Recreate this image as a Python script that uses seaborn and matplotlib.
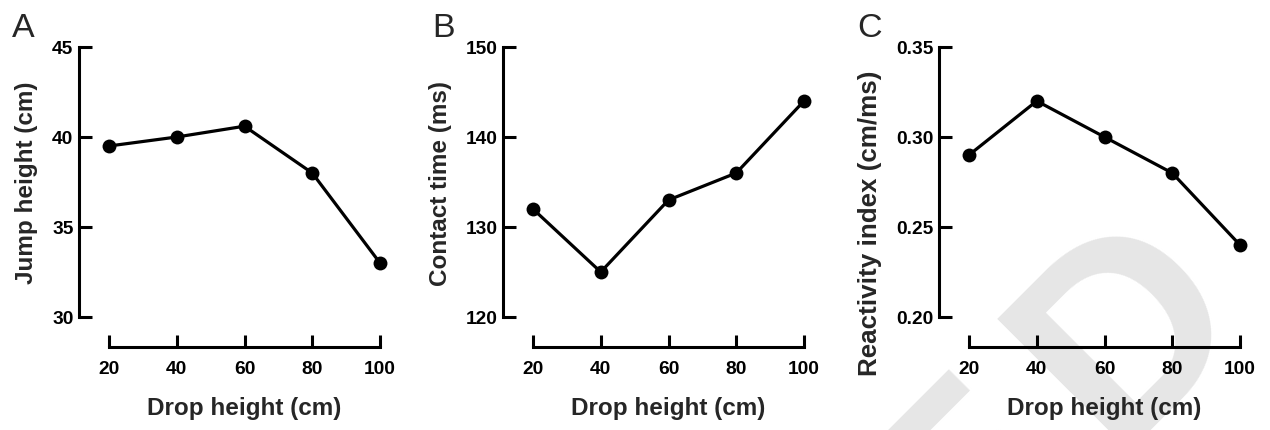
import matplotlib
matplotlib.use("Agg")
import matplotlib.pyplot as plt
import seaborn as sns
import pandas as pd

drop_height = [20, 40, 60, 80, 100]
jump_height = [39.5, 40.0, 40.6, 38.0, 33.0]
contact_time = [132, 125, 133, 136, 144]
reactivity = [0.29, 0.32, 0.30, 0.28, 0.24]

panels = [
    ("A", jump_height, "Jump height (cm)", [30, 35, 40, 45], ["30", "35", "40", "45"]),
    ("B", contact_time, "Contact time (ms)", [120, 130, 140, 150], ["120", "130", "140", "150"]),
    ("C", reactivity, "Reactivity index (cm/ms)", [0.20, 0.25, 0.30, 0.35], ["0.20", "0.25", "0.30", "0.35"]),
]

sns.set_style("ticks")
plt.rcParams['font.family'] = ['Liberation Sans', 'DejaVu Sans']

W, H = 1270, 431
fig = plt.figure(figsize=(W / 100, H / 100), dpi=100)

# faint diagonal watermark letters behind the plots
wm = dict(rotation=45, rotation_mode="anchor", fontsize=195, fontweight="bold",
          color="#e6e6e6", zorder=-5)
fig.text(973 / W, 1 - 312 / H, "D", ha="left", va="top", **wm)
fig.text(948 / W, 1 - 338 / H, "E", ha="right", va="top", **wm)

lefts = [109, 533, 969]
letter_x = [12, 432, 857]
ylab_size = [17.5, 17.5, 18.7]
ylab_y = [0.5, 0.5, 0.352]
for i, (letter, vals, ylab, yt, ytl) in enumerate(panels):
    ax = fig.add_axes([lefts[i] / W, 1 - 318 / H, 271 / W, 270 / H])
    ax.set_facecolor("none")
    df = pd.DataFrame({"drop": drop_height, "val": vals})
    sns.lineplot(data=df, x="drop", y="val", marker="o", color="black",
                 linewidth=2.3, markersize=10, markeredgewidth=0, ax=ax)
    for ln in ax.lines:
        ln.set_clip_on(False)
    ax.set_xlim(20, 100)
    ax.set_ylim(yt[0], yt[-1])
    ax.set_xticks(drop_height)
    ax.set_xticklabels([str(d) for d in drop_height])
    ax.set_yticks(yt)
    ax.set_yticklabels(ytl)
    sns.despine(ax=ax, offset=21.6)
    for s in ("left", "bottom"):
        ax.spines[s].set_linewidth(2.2)
        ax.spines[s].set_color("black")
    ax.tick_params(axis="both", direction="in", length=9, width=2.2, color="black",
                   labelsize=13.8, labelcolor="black")
    ax.tick_params(axis="y", pad=4)
    ax.tick_params(axis="x", pad=9)
    for t in ax.get_xticklabels() + ax.get_yticklabels():
        t.set_fontweight("bold")
    ax.set_xlabel("Drop height (cm)", fontsize=17.5, fontweight="bold", labelpad=14)
    ax.set_ylabel(ylab, fontsize=ylab_size[i], fontweight="bold", labelpad=10)
    ax.yaxis.label.set_y(ylab_y[i])
    fig.text(letter_x[i] / W, 1 - 13 / H, letter, fontsize=24.5, ha="left", va="top")

fig.savefig("out.png", dpi=100)
